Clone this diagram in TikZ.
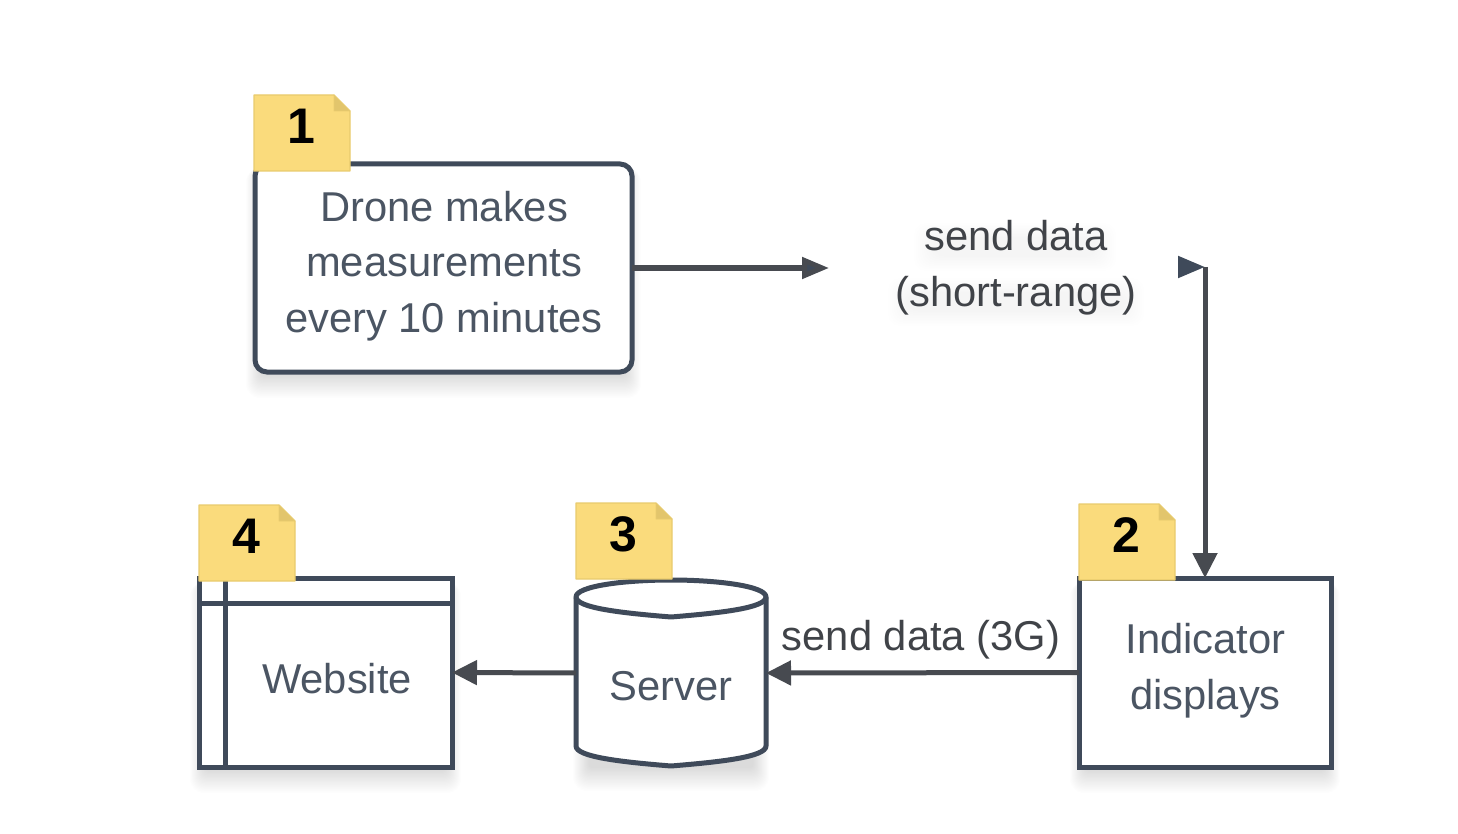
\documentclass[tikz,border=0pt]{standalone}
\usepackage{fontspec}
\setmainfont{Liberation Sans}
\usetikzlibrary{arrows.meta,positioning}
\definecolor{inkblue}{HTML}{3F4A5A}
\definecolor{txt}{HTML}{4B5563}
\definecolor{arrowgrey}{HTML}{474A50}
\definecolor{notefill}{HTML}{FADB7C}
\definecolor{noteedge}{HTML}{E9CB6E}
\definecolor{notefold}{HTML}{E2C56C}
\tikzset{
  boxshape/.style={draw=inkblue,line width=5pt,fill=white,inner sep=0pt,outer sep=0pt,anchor=center},
  ghost/.style={inner sep=0pt,outer sep=0pt,anchor=center},
  lab/.style={text=txt,align=center,inner sep=0pt,font=\fontsize{41.7}{55.5}\selectfont},
  darklab/.style={lab,text=arrowgrey!90!black},
  numlab/.style={text=black,inner sep=0pt,font=\fontsize{50}{50}\selectfont\bfseries},
  conn/.style={draw=arrowgrey,line width=5pt},
  tipgrey/.style={-{Triangle[length=25pt,width=24pt,fill=arrowgrey]}},
  tipblue/.style={-{Triangle[length=27pt,width=21pt,fill=inkblue]}},
  notebody/.style={fill=notefill,draw=noteedge,line width=1.2pt,line join=round},
  notefoldst/.style={fill=notefold,draw=noteedge,line width=.6pt,line join=round},
}
% soft drop shadow under a box
\newcommand{\softshade}[4]{%
  \foreach \k in {0,...,17}{%
    \fill[black,opacity=.0085,rounded corners={14pt-\k*0.6pt}]
      ({#1-9+\k*0.9},{#2+4}) rectangle ({#3+9-\k*0.9},{#4+26-\k*1.35});
  }%
}
% note with a folded corner; #1 name, #2 left, #3 top, #4 digit
\newcommand{\stickynote}[4]{%
  \draw[notebody] (#2,#3) -- ({#2+80},#3) -- ({#2+96},{#3+16}) -- ({#2+96},{#3+76}) -- (#2,{#3+76}) -- cycle;
  \draw[notefoldst] ({#2+80},#3) -- ({#2+96},{#3+16}) -- ({#2+80},{#3+16}) -- cycle;
  \node[numlab] (#1) at ({#2+47},{#3+31}) {#4};
}
\begin{document}
\begin{tikzpicture}[x=1pt,y=-1pt]
\useasboundingbox (0,0) rectangle (1458,834);
\fill[white] (0,0) rectangle (1458,834);

% shadows
\softshade{255}{164}{632}{372}
\softshade{199}{578}{452}{767}
\softshade{582}{590}{760}{765}
\softshade{1079}{578}{1331}{767}
\foreach \yy/\xa/\xb in {241/924/1106,296/898/1134}{
  \foreach \k in {0,...,9}{
    \fill[black,opacity=.0055,rounded corners=12pt]
      ({\xa-10+\k*2},{\yy-18+\k*1.6}) rectangle ({\xb+10-\k*2},{\yy+30-\k*1.6});
  }
}

% boxes
\node[boxshape,rounded corners=12pt,minimum width=377pt,minimum height=208pt] (drone) at (443.5,268) {};
\node[boxshape,minimum width=252pt,minimum height=189pt] (indicator) at (1205,672.5) {};
\node[boxshape,minimum width=253pt,minimum height=189pt] (website) at (325.5,672.5) {};
\draw[draw=inkblue,line width=5pt] (website.north west |- 0,603) -- (website.north east |- 0,603);
\draw[draw=inkblue,line width=5pt] (225,578) -- (225,767);

% server cylinder
\node[ghost,minimum width=190pt,minimum height=188pt] (server) at (671,673) {};
\draw[draw=inkblue,line width=5pt,fill=white,line join=round]
  (576,597) .. controls (576,586) and (625,580) .. (671,580)
  .. controls (717,580) and (766,586) .. (766,597)
  -- (766,746) .. controls (766,757) and (720,762) .. (671,766)
  .. controls (622,762) and (576,757) .. (576,746) -- cycle;
\draw[draw=inkblue,line width=5pt,line join=round]
  (576,597) .. controls (576,608) and (622,613) .. (671,617)
  .. controls (720,613) and (766,608) .. (766,597);

% free ends
\coordinate (droneend) at (829,268);
\coordinate (corner) at (1205,267);
\coordinate (cornerstart) at (1180,267);

% connectors
\draw[conn,tipblue] (drone.east |- droneend) -- (droneend);
\draw[conn,tipblue,draw=inkblue] (cornerstart) -- (corner);
\draw[conn,tipgrey] (corner) -- (indicator.north);
\draw[conn,tipgrey] (indicator.west) -- (server.east);
\draw[conn,tipgrey] (server.west) -- (website.east);

% labels
\node[lab] (dronetext) at (444,266) {Drone makes\\measurements\\every 10 minutes};
\node[lab] (indtext) at (1205.5,670.5) {Indicator\\displays};
\node[lab] (webtext) at (337,679) {Website};
\node[lab] (servtext) at (671,686) {Server};
\node[darklab] (sendshort) at (1016,267.5) {send data\\(short-range)};
\node[darklab] (send3g) at (921,640) {send data (3G)};

% notes
\stickynote{n1}{254}{95}{1}
\stickynote{n2}{1079}{504}{2}
\stickynote{n3}{576}{503}{3}
\stickynote{n4}{199}{505}{4}
\end{tikzpicture}
\end{document}
